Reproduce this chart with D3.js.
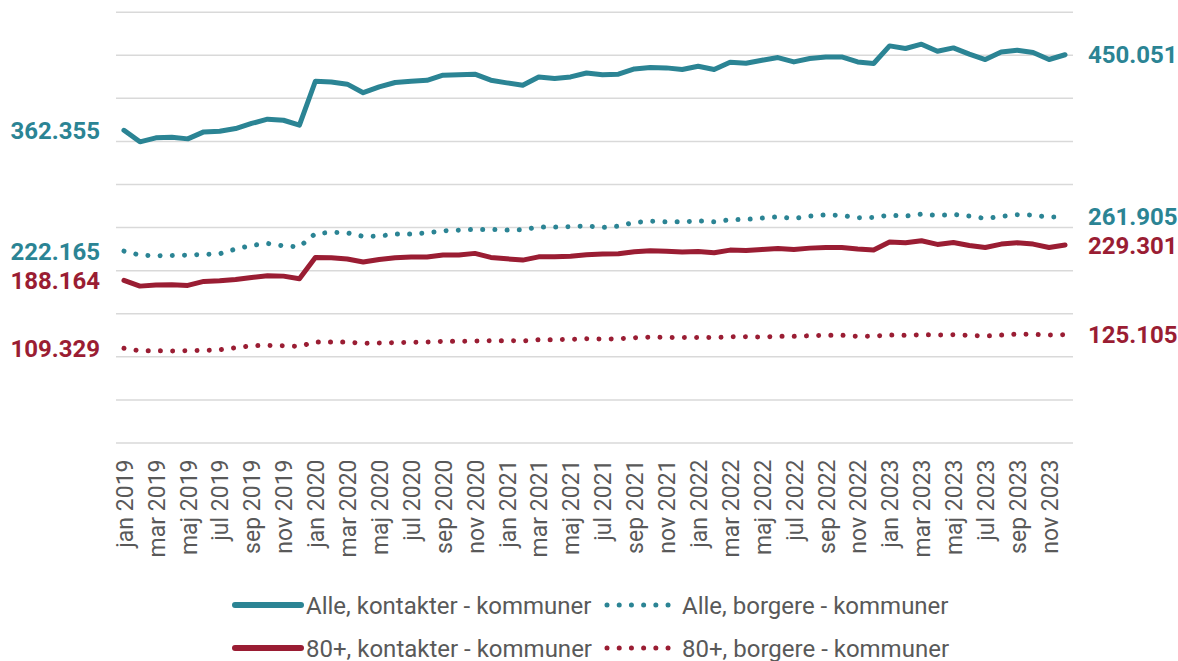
<!DOCTYPE html>
<html>
<head>
<meta charset="utf-8">
<script src="https://cdn.jsdelivr.net/npm/d3@7"></script>
<style>
  body { margin: 0; background: #fff; }
  svg { font-family: Roboto, "Noto Sans", sans-serif; }
</style>
</head>
<body>
<script>
// months jan 2019 .. dec 2023
var monthNames = ['jan', 'feb', 'mar', 'apr', 'maj', 'jun', 'jul', 'aug', 'sep', 'okt', 'nov', 'dec'];
var years = [2019, 2020, 2021, 2022, 2023];
var months = [];
years.forEach(function (yr) {
  monthNames.forEach(function (m) { months.push(m + ' ' + yr); });
});

// series values
var alleKontakter = [362355, 349000, 353600, 354400, 352400, 360500, 361300, 364400, 370300, 375300, 374000, 368300,
  419300, 418500, 415900, 406000, 412700, 417800, 419300, 420300, 426300, 426700, 427500, 420500,
  417400, 414700, 424300, 422500, 424300, 428900, 426700, 427500, 433600, 435200, 434800, 432900,
  436700, 432900, 441400, 440200, 443700, 446800, 441700, 445700, 447500, 447500, 441700, 439900,
  460300, 457300, 462300, 454100, 458000, 450700, 444500, 453300, 455300, 452600, 444500, 450051];

var alleBorgere = [222165, 217500, 216700, 217100, 217500, 218300, 219000, 224500, 228700, 231000, 228300, 227100,
  242600, 243800, 243400, 239200, 239500, 241900, 241900, 243400, 245700, 246500, 247300, 247300,
  246500, 246900, 250000, 250000, 250400, 251500, 249600, 251100, 255400, 256900, 256100, 256100,
  257300, 256100, 258500, 258900, 260400, 262000, 260000, 262700, 264300, 263500, 260800, 261200,
  263900, 262700, 265100, 263500, 264700, 262700, 260000, 262400, 264300, 263900, 261600, 261905];

var plusKontakter = [188164, 181500, 182700, 183100, 182300, 187000, 187700, 189300, 191600, 193500, 193100, 190000,
  214800, 214400, 212900, 209400, 212500, 214400, 215200, 215200, 217500, 217500, 219500, 214800,
  213200, 211700, 215500, 215500, 216300, 217800, 218700, 219000, 221300, 222500, 222100, 221000,
  221800, 220200, 223300, 222900, 224100, 225200, 224100, 225600, 226400, 226400, 224500, 223300,
  232600, 231800, 234100, 229900, 232200, 228700, 226400, 230300, 231800, 230300, 226400, 229301];

var plusBorgere = [109329, 106500, 106500, 106100, 106500, 106900, 107700, 110000, 112300, 112700, 112300, 111600,
  116600, 116600, 116600, 115100, 115400, 115800, 116200, 116600, 117400, 117400, 117700, 118100,
  118100, 117900, 119300, 119300, 119700, 120400, 120100, 120400, 121600, 122400, 122000, 121800,
  122000, 121800, 122600, 122800, 122400, 123200, 123200, 123900, 124500, 124500, 123200, 123500,
  124700, 124300, 125100, 124700, 125100, 124300, 123500, 124700, 125900, 125500, 124700, 125105];

var seriesNames = ['Alle, kontakter - kommuner', 'Alle, borgere - kommuner',
  '80+, kontakter - kommuner', '80+, borgere - kommuner'];

var yTicks = [0, 50000, 100000, 150000, 200000, 250000, 300000, 350000, 400000, 450000, 500000];

var teal = '#2b8494';
var red = '#9a1d33';

var series = [
  { name: seriesNames[0], values: alleKontakter, color: teal, dotted: false },
  { name: seriesNames[1], values: alleBorgere, color: teal, dotted: true },
  { name: seriesNames[2], values: plusKontakter, color: red, dotted: false },
  { name: seriesNames[3], values: plusBorgere, color: red, dotted: true }
];

var width = 1178, height = 661;
var plotLeft = 116, plotRight = 1073, plotTop = 11.7, plotBottom = 442.5;

var svg = d3.select('body').append('svg')
  .attr('width', width)
  .attr('height', height);

var x = d3.scalePoint()
  .domain(months)
  .range([plotLeft, plotRight])
  .padding(0.5);

var y = d3.scaleLinear()
  .domain([0, 500000])
  .range([plotBottom, plotTop]);

// gridlines
var grid = svg.append('g')
  .attr('transform', 'translate(' + plotLeft + ',0)')
  .call(d3.axisLeft(y).tickValues(yTicks).tickSize(-(plotRight - plotLeft)).tickFormat(''));
grid.select('.domain').remove();
grid.selectAll('line').attr('stroke', '#d9d9d9').attr('stroke-width', 1.5);

// x axis
var xAxis = svg.append('g')
  .attr('transform', 'translate(0,' + plotBottom + ')')
  .call(d3.axisBottom(x)
    .tickValues(months.filter(function (d, i) { return i % 2 === 0; }))
    .tickSize(0));
xAxis.select('.domain').remove();
xAxis.selectAll('text')
  .attr('transform', 'rotate(-90)')
  .attr('text-anchor', 'end')
  .attr('x', -17)
  .attr('y', 0)
  .attr('dy', '0.36em')
  .attr('fill', '#595959')
  .style('font-size', '23px')
  .style('font-family', 'Roboto');

// lines
var line = d3.line()
  .x(function (d, i) { return x(months[i]); })
  .y(function (d) { return y(d); });

series.forEach(function (s) {
  svg.append('path')
    .attr('fill', 'none')
    .attr('stroke', s.color)
    .attr('stroke-width', 5)
    .attr('stroke-linejoin', 'round')
    .attr('stroke-linecap', 'round')
    .attr('stroke-dasharray', s.dotted ? '0.01 12.2' : null)
    .attr('d', line(s.values));
});

// end labels
var fmt = d3.formatLocale({ decimal: ',', thousands: '.', grouping: [3], currency: ['', ''] }).format(',');

series.forEach(function (s) {
  var first = s.values[0], last = s.values[s.values.length - 1];
  svg.append('text')
    .attr('x', 100)
    .attr('y', y(first))
    .attr('dy', '0.36em')
    .attr('text-anchor', 'end')
    .attr('fill', s.color)
    .style('font-size', '24px')
    .style('font-weight', 'bold')
    .text(fmt(first));
  svg.append('text')
    .attr('x', 1088)
    .attr('y', y(last))
    .attr('dy', '0.36em')
    .attr('fill', s.color)
    .style('font-size', '24px')
    .style('font-weight', 'bold')
    .text(fmt(last));
});

// legend
var legendPos = [[232, 605], [604, 605], [232, 648], [604, 648]];
series.forEach(function (s, i) {
  var p = legendPos[i];
  var g = svg.append('g').attr('transform', 'translate(' + p[0] + ',' + p[1] + ')');
  g.append('line')
    .attr('x1', 3)
    .attr('x2', s.dotted ? 66 : 69)
    .attr('y1', 0).attr('y2', 0)
    .attr('stroke', s.color)
    .attr('stroke-width', s.dotted ? 5 : 6)
    .attr('stroke-linecap', 'round')
    .attr('stroke-dasharray', s.dotted ? '0.01 12.2' : null);
  g.append('text')
    .attr('x', s.dotted ? 78 : 74)
    .attr('y', 0)
    .attr('dy', '0.36em')
    .attr('fill', '#595959')
    .style('font-size', '24px')
    .text(s.name);
});
</script>
</body>
</html>
